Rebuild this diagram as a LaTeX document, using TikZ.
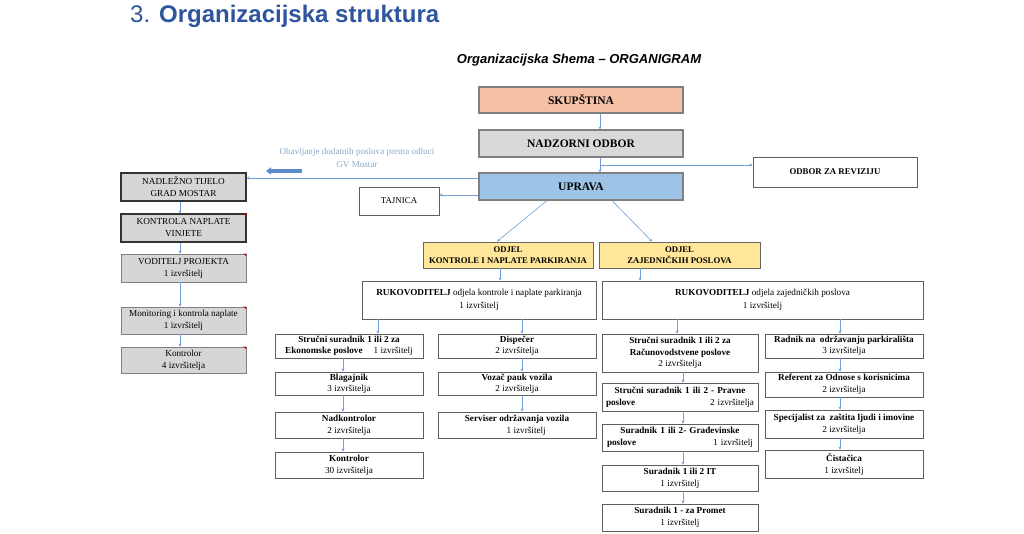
\documentclass[tikz,border=0pt]{standalone}
\usepackage{fontspec}
\setmainfont{Liberation Serif}
\newfontfamily\titlesans{Liberation Sans}
\usetikzlibrary{arrows.meta}
\definecolor{lineblue}{HTML}{6F9FD8}
\definecolor{thickblue}{HTML}{5B8BC9}
\definecolor{labelblue}{HTML}{8FA8C8}
\definecolor{titleblue}{HTML}{2E559E}
\definecolor{skupfill}{HTML}{F6C0A4}
\definecolor{nadzfill}{HTML}{D9D9D9}
\definecolor{uprfill}{HTML}{9DC3E6}
\definecolor{odjelfill}{HTML}{FFE699}
\definecolor{leftfill}{HTML}{D6D6D6}
\definecolor{boxgray}{HTML}{5E5E5E}
\begin{document}
\begin{tikzpicture}[x=1pt,y=-1pt,
  wh/.style 2 args={minimum width=#1pt, minimum height=#2pt},
  box/.style={draw=boxgray, line width=0.9pt, fill=white, inner sep=1pt, align=center,
    font=\fontsize{9.2}{12}\selectfont},
  tight/.style={font=\fontsize{9.2}{10.8}\selectfont},
  mainbox/.style={box, draw=gray, line width=1.1pt, font=\fontsize{11.5}{13}\selectfont\bfseries},
  leftbox/.style={box, fill=leftfill, draw=black!80, line width=1.3pt, wh={125}{28}},
  graybox/.style={box, fill=leftfill, draw=gray, line width=0.8pt},
  odjel/.style={box, fill=odjelfill, draw=gray!80!black, line width=0.9pt, font=\fontsize{8.7}{11}\selectfont\bfseries},
  arr/.style={draw=lineblue, line width=0.6pt, -{Stealth[length=3pt,width=3pt]}},
  thickarr/.style={draw=thickblue, line width=3.5pt, -{Triangle[length=5pt,width=7pt]}},
  redmark/.style={fill=red!80!black}
]
\useasboundingbox[fill=white] (0,0) rectangle (1024,534);

% titles
\node[anchor=base west, font=\titlesans\fontsize{24}{28}\selectfont, text=titleblue, inner sep=0] (title) at (130,23) {3. \textbf{Organizacijska struktura}};
\node[font=\titlesans\fontsize{13}{15}\selectfont\bfseries\itshape, inner sep=0] (sub) at (579,60) {Organizacijska Shema – ORGANIGRAM};

% top boxes
\node[mainbox, fill=skupfill, wh={204}{26}] (skup) at (581,100) {SKUPŠTINA};
\node[mainbox, fill=nadzfill, wh={204}{27}] (nadz) at (581,143.5) {NADZORNI ODBOR};
\node[mainbox, fill=uprfill, wh={204}{27}] (upr) at (581,186.5) {UPRAVA};
\node[box, wh={164}{30}, font=\fontsize{8.8}{10}\selectfont\bfseries] (rev) at (835,172) {ODBOR ZA REVIZIJU};
\node[box, wh={80}{28}, font=\fontsize{8.9}{10}\selectfont] (taj) at (399,201) {TAJNICA};

% left column
\node[leftbox] (nadl) at (183.5,187) {NADLEŽNO TIJELO\\GRAD MOSTAR};
\node[leftbox] (kont) at (183.5,228) {KONTROLA NAPLATE\\VINJETE};
\node[graybox, wh={125}{28}] (vod) at (183.5,268) {VODITELJ PROJEKTA\\1 izvršitelj};
\node[graybox, wh={125}{27}] (mon) at (183.5,320.5) {Monitoring i kontrola naplate\\1 izvršitelj};
\node[graybox, wh={125}{26}] (k4) at (183.5,360) {Kontrolor\\4 izvršitelja};
\fill[redmark] (kont.north east) -- ++(-3,0) -- ++(3,3) -- cycle;
\fill[redmark] (vod.north east) -- ++(-3,0) -- ++(3,3) -- cycle;
\fill[redmark] (mon.north east) -- ++(-3,0) -- ++(3,3) -- cycle;
\fill[redmark] (k4.north east) -- ++(-3,0) -- ++(3,3) -- cycle;

% label and thick arrow
\node[font=\fontsize{9.1}{13}\selectfont, text=labelblue, align=center] (obav) at (357,158) {Obavljanje dodatnih poslova prema odluci\\GV Mostar};
\coordinate (ta1) at (302,171);
\coordinate (ta2) at (266,171);
\draw[thickarr] (ta1) -- (ta2);

% departments
\node[odjel, wh={170}{26}] (odL) at (508,255) {ODJEL\\KONTROLE I NAPLATE PARKIRANJA};
\node[odjel, wh={161}{26}] (odR) at (679.5,255) {ODJEL\\ZAJEDNIČKIH POSLOVA};

\node[box, wh={234}{38}, font=\fontsize{9.2}{13}\selectfont] (rukL) at (479,300) {\textbf{RUKOVODITELJ} odjela kontrole i naplate parkiranja\\1 izvršitelj};
\node[box, wh={321}{38}, font=\fontsize{9.2}{13}\selectfont] (rukR) at (762.5,300) {\textbf{RUKOVODITELJ} odjela zajedničkih poslova\\1 izvršitelj};

% left department staff
\node[box, tight, wh={148}{24}] (ekon) at (349,346) {\textbf{Stručni suradnik 1 ili 2 za}\\\textbf{Ekonomske poslove}\hspace{1.2em}1 izvršitelj};
\node[box, tight, wh={158}{24}] (disp) at (517,346) {\textbf{Dispečer}\\2 izvršitelja};
\node[box, tight, wh={148}{23}] (blag) at (349,383.5) {\textbf{Blagajnik}\\3 izvršitelja};
\node[box, tight, wh={158}{23}] (voz) at (517,383.5) {\textbf{Vozač pauk vozila}\\2 izvršitelja};
\node[box, wh={148}{26}] (nadk) at (349,425) {\textbf{Nadkontrolor}\\2 izvršitelja};
\node[box, wh={158}{26}] (serv) at (517,425) {\textbf{Serviser održavanja vozila}\\\hspace*{2em}1 izvršitelj};
\node[box, wh={148}{26}] (k30) at (349,465) {\textbf{Kontrolor}\\30 izvršitelja};

% right department staff
\node[box, wh={156}{38}, font=\fontsize{9.2}{11.5}\selectfont] (rac) at (680,353) {\textbf{Stručni suradnik 1 ili 2 za}\\\textbf{Računovodstvene poslove}\\2 izvršitelja};
\node[box, tight, wh={158}{24}] (radn) at (844,346) {\textbf{Radnik na\ \ održavanju parkirališta}\\3 izvršitelja};
\node[box, wh={158}{25}] (ref) at (844,384.5) {\textbf{Referent za Odnose s korisnicima}\\2 izvršitelja};
\node[box, wh={156}{28}, text width=148pt] (prav) at (680,397) {\textbf{Stručni suradnik 1 ili 2 - Pravne}\\\makebox[\linewidth]{\textbf{poslove}\hfill 2 izvršitelja}};
\node[box, wh={156}{27}, text width=146pt] (grad) at (680,437.5) {\textbf{Suradnik 1 ili 2- Građevinske}\\\makebox[\linewidth]{\textbf{poslove}\hfill 1 izvršitelj}};
\node[box, wh={156}{26}] (it) at (680,478) {\textbf{Suradnik 1 ili 2 IT}\\1 izvršitelj};
\node[box, wh={156}{27}] (prom) at (680,517.5) {\textbf{Suradnik 1 - za Promet}\\1 izvršitelj};
\node[box, wh={158}{28}] (spec) at (844,424) {\textbf{Specijalist za\ \ zaštita ljudi i imovine}\\2 izvršitelja};
\node[box, wh={158}{28}] (cist) at (844,464) {\textbf{Čistačica}\\1 izvršitelj};

% x / y guides
\coordinate (c600) at (600,0);
\coordinate (c180) at (180,0);
\coordinate (c547) at (547,0);
\coordinate (c497) at (497,0);
\coordinate (c612) at (612,0);
\coordinate (c652) at (652,0);
\coordinate (c500) at (500,0);
\coordinate (c640) at (640,0);
\coordinate (c378) at (378,0);
\coordinate (c522) at (522,0);
\coordinate (c343) at (343,0);
\coordinate (c677) at (677,0);
\coordinate (c683) at (683,0);
\coordinate (c840) at (840,0);
\coordinate (y178) at (0,178);
\coordinate (y195) at (0,195);
\coordinate (jr) at (600,165);

% connectors top
\draw[arr] (skup.south -| c600) -- (nadz.north -| c600);
\draw[arr] (nadz.south -| c600) -- (upr.north -| c600);
\draw[arr] (jr) -- (jr -| rev.west);
\draw[arr] (upr.west |- y178) -- (nadl.east |- y178);
\draw[arr] (upr.west |- y195) -- (taj.east |- y195);
\draw[arr] (upr.south -| c547) -- (odL.north -| c497);
\draw[arr] (upr.south -| c612) -- (odR.north -| c652);

% left chain
\draw[arr] (nadl.south -| c180) -- (kont.north -| c180);
\draw[arr] (kont.south -| c180) -- (vod.north -| c180);
\draw[arr] (vod.south -| c180) -- (mon.north -| c180);
\draw[arr] (mon.south -| c180) -- (k4.north -| c180);

% departments to heads
\draw[arr] (odL.south -| c500) -- (rukL.north -| c500);
\draw[arr] (odR.south -| c640) -- (rukR.north -| c640);

% left department
\draw[arr] (rukL.south -| c378) -- (ekon.north -| c378);
\draw[arr] (rukL.south -| c522) -- (disp.north -| c522);
\draw[arr] (ekon.south -| c343) -- (blag.north -| c343);
\draw[arr] (blag.south -| c343) -- (nadk.north -| c343);
\draw[arr] (nadk.south -| c343) -- (k30.north -| c343);
\draw[arr] (disp.south -| c522) -- (voz.north -| c522);
\draw[arr] (voz.south -| c522) -- (serv.north -| c522);

% right department
\draw[arr] (rukR.south -| c677) -- (rac.north -| c677);
\draw[arr] (rukR.south -| c840) -- (radn.north -| c840);
\draw[arr] (rac.south -| c683) -- (prav.north -| c683);
\draw[arr] (prav.south -| c683) -- (grad.north -| c683);
\draw[arr] (grad.south -| c683) -- (it.north -| c683);
\draw[arr] (it.south -| c683) -- (prom.north -| c683);
\draw[arr] (radn.south -| c840) -- (ref.north -| c840);
\draw[arr] (ref.south -| c840) -- (spec.north -| c840);
\draw[arr] (spec.south -| c840) -- (cist.north -| c840);
\end{tikzpicture}
\end{document}
